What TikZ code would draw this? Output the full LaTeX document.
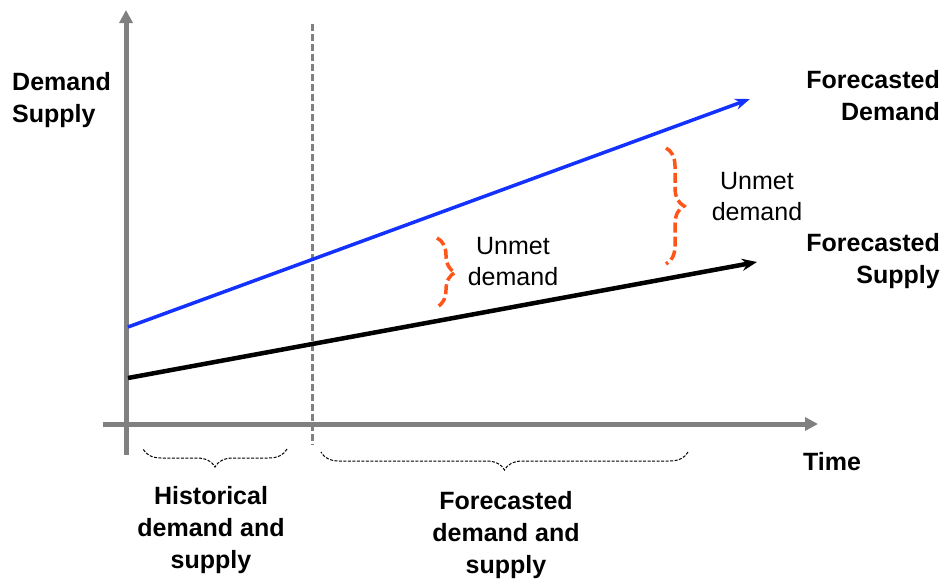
\documentclass[tikz,border=0pt]{standalone}
\usepackage{fontspec}
\setmainfont{Liberation Sans}
\usetikzlibrary{arrows.meta,decorations.pathreplacing}

\definecolor{axisgray}{RGB}{128,128,128}
\definecolor{demandblue}{RGB}{20,50,255}
\definecolor{gaporange}{RGB}{255,85,25}

\tikzset{
  axisline/.style={draw=axisgray,line width=5pt,-{Triangle[length=13pt,width=13pt]}},
  splitline/.style={draw=axisgray,line width=3pt,dash pattern=on 7pt off 3pt},
  demandline/.style={draw=demandblue,line width=3.5pt,-{Stealth[length=15pt,width=11pt]}},
  supplyline/.style={draw=black,line width=4.5pt,-{Stealth[length=15pt,width=12pt]}},
  gapbrace/.style={draw=gaporange,line width=3.5pt,dash pattern=on 10pt off 4pt,
    decorate,decoration={brace,amplitude=18pt}},
  spanbrace/.style={draw=black,line width=1pt,dash pattern=on 3pt off 1.5pt,
    decorate,decoration={brace,amplitude=18pt}},
}

\begin{document}
\begin{tikzpicture}[x=1pt,y=-1pt]
  \useasboundingbox (0,0) rectangle (945,581);

  % axes and split
  \coordinate (ybot)   at (126,455);
  \coordinate (ytop)   at (126,10);
  \coordinate (xleft)  at (103,424);
  \coordinate (xright) at (818,424);
  \coordinate (splittop) at (312,24);
  \coordinate (splitbot) at (312,445);

  % demand and supply lines
  \coordinate (dstart) at (128,327);
  \coordinate (dend)   at (750,99);
  \coordinate (sstart) at (128,378);
  \coordinate (send)   at (757,262);

  % braces
  \coordinate (gap1top) at (437,238);
  \coordinate (gap1bot) at (437,307);
  \coordinate (gap2top) at (666,148);
  \coordinate (gap2bot) at (666,264);
  \coordinate (histl) at (143,449);
  \coordinate (histr) at (287,449);
  \coordinate (forel) at (321,452);
  \coordinate (forer) at (688,452);

  \draw[axisline] (ybot) -- (ytop);
  \draw[axisline] (xleft) -- (xright);
  \draw[splitline] (splittop) -- (splitbot);

  \draw[supplyline] (sstart) -- (send);
  \draw[demandline] (dstart) -- (dend);

  \draw[gapbrace] (gap1top) -- (gap1bot);
  \draw[gapbrace] (gap2top) -- (gap2bot);
  \draw[spanbrace] (histr) -- (histl);
  \draw[spanbrace] (forer) -- (forel);

  \begin{scope}[every node/.style={font=\bfseries\fontsize{25}{32}\selectfont,inner sep=0pt}]
    \node[anchor=west,align=left]  (axislabel) at (12,100)  {Demand\\Supply};
    \node[anchor=east,align=right] (fdemand)   at (940,96)  {Forecasted\\Demand};
    \node[anchor=east,align=right] (fsupply)   at (940,261) {Forecasted\\Supply};
    \node (timelabel) at (832,462) {Time};
    \node[align=center] (histlabel) at (211,530) {Historical\\demand and\\supply};
    \node[align=center] (forelabel) at (506,535) {Forecasted\\demand and\\supply};
  \end{scope}

  \begin{scope}[every node/.style={font=\fontsize{25}{31}\selectfont,inner sep=0pt,align=center}]
    \node (gap1label) at (513,262) {Unmet\\demand};
    \node (gap2label) at (757,197) {Unmet\\demand};
  \end{scope}

\end{tikzpicture}
\end{document}
